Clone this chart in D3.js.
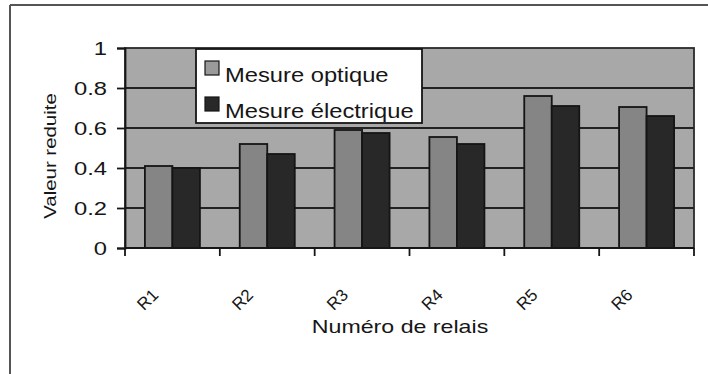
<!DOCTYPE html>
<html><head><meta charset="utf-8">
<script src="https://cdn.jsdelivr.net/npm/d3@7"></script>
<style>
html,body{margin:0;padding:0;background:#fff;}
svg{display:block;font-family:"Liberation Sans",Arial,sans-serif;}
</style></head>
<body>
<svg id="chart" width="708" height="374"></svg>
<script>
const categories = ["R1","R2","R3","R4","R5","R6"];
const seriesNames = ["Mesure optique","Mesure électrique"];
const optique = [0.41,0.52,0.59,0.555,0.76,0.705];
const electrique = [0.40,0.47,0.575,0.52,0.71,0.66];
const yTicks = [0,0.2,0.4,0.6,0.8,1];
const yTickLabels = ["0","0.2","0.4","0.6","0.8","1"];
const seriesValues = [optique, electrique];
const seriesColors = ["#858585","#282828"];
const swatchColors = ["#9a9a9a","#282828"];

const svg = d3.select("#chart");
const M = {left:125, right:694, top:48, bottom:248};
const ink = "#161616";

function stretch(sel, k){
  sel.each(function(){
    const w = this.getComputedTextLength();
    this.setAttribute("textLength", w*k);
    this.setAttribute("lengthAdjust","spacingAndGlyphs");
  });
}

// outer frame (top & left only visible)
svg.append("line").attr("x1",10).attr("x2",708).attr("y1",5).attr("y2",5)
  .attr("stroke","#555").attr("stroke-width",2);
svg.append("line").attr("x1",10).attr("x2",10).attr("y1",5).attr("y2",374)
  .attr("stroke","#555").attr("stroke-width",2);

const x = d3.scaleBand().domain(categories).range([M.left, M.right]).padding(0);
const x1 = d3.scaleBand().domain(seriesNames).range([0, x.bandwidth()]).paddingInner(0).paddingOuter(0.724);
const y = d3.scaleLinear().domain([0,1]).range([M.bottom, M.top]);

// plot background
svg.append("rect").attr("x",M.left).attr("y",M.top)
  .attr("width",M.right-M.left).attr("height",M.bottom-M.top)
  .attr("fill","#a8a8a8");

// gridlines
svg.append("g").selectAll("line").data(yTicks.filter(d=>d>0 && d<1)).join("line")
  .attr("x1",M.left).attr("x2",M.right)
  .attr("y1",d=>y(d)).attr("y2",d=>y(d))
  .attr("stroke","#222").attr("stroke-width",1.8);

// bars
const groups = svg.append("g").selectAll("g").data(categories).join("g")
  .attr("transform",c=>`translate(${x(c)},0)`);
groups.selectAll("rect").data((c,i)=>seriesNames.map((s,j)=>({s, j, v:seriesValues[j][i]})))
  .join("rect")
  .attr("x",d=>x1(d.s)).attr("width",x1.bandwidth())
  .attr("y",d=>y(d.v)).attr("height",d=>y(0)-y(d.v))
  .attr("fill",d=>seriesColors[d.j])
  .attr("stroke","#151515").attr("stroke-width",1.8);

// plot border
svg.append("rect").attr("x",M.left).attr("y",M.top)
  .attr("width",M.right-M.left).attr("height",M.bottom-M.top)
  .attr("fill","none").attr("stroke","#2a2a2a").attr("stroke-width",1.8);

// y axis
const yAxis = svg.append("g").attr("transform",`translate(${M.left},0)`)
  .call(d3.axisLeft(y).tickValues(yTicks).tickFormat((d,i)=>yTickLabels[i]).tickSize(8).tickPadding(10));
yAxis.select(".domain").attr("stroke",ink).attr("stroke-width",1.8);
yAxis.selectAll(".tick line").attr("stroke",ink).attr("stroke-width",1.8);
yAxis.selectAll(".tick text").attr("font-size",19).attr("fill",ink)
  .attr("font-family","Liberation Sans, Arial, sans-serif");
stretch(yAxis.selectAll(".tick text"), 1.25);

// x axis line & ticks at band boundaries
const bounds = categories.map(c=>x(c)).concat([x.range()[1]]);
svg.append("line").attr("x1",M.left).attr("x2",M.right).attr("y1",M.bottom).attr("y2",M.bottom)
  .attr("stroke",ink).attr("stroke-width",1.8);
svg.append("g").selectAll("line").data(bounds).join("line")
  .attr("x1",d=>d).attr("x2",d=>d).attr("y1",M.bottom).attr("y2",M.bottom+8)
  .attr("stroke",ink).attr("stroke-width",1.8);

// x tick labels rotated
svg.append("g").selectAll("text").data(categories).join("text")
  .attr("transform",c=>`translate(${x(c)+x.bandwidth()/2-13},296) rotate(-45)`)
  .attr("text-anchor","end").attr("font-size",17).attr("fill",ink)
  .text(d=>d);

// axis titles
const xt = svg.append("text").attr("x",400).attr("y",333).attr("text-anchor","middle")
  .attr("font-size",19).attr("fill",ink).text("Numéro de relais");
stretch(xt, 1.22);
const yt = svg.append("text").attr("transform","translate(56,156) rotate(-90)")
  .attr("text-anchor","middle").attr("font-size",17).attr("fill",ink).text("Valeur reduite");
stretch(yt, 1.2);

// legend
const lg = svg.append("g");
lg.append("rect").attr("x",196).attr("y",49).attr("width",226).attr("height",74)
  .attr("fill","#fff").attr("stroke",ink).attr("stroke-width",1.8);
const items = lg.selectAll("g").data(seriesNames).join("g")
  .attr("transform",(d,i)=>`translate(205,${61+i*36})`);
items.append("rect").attr("width",14).attr("height",14)
  .attr("fill",(d,i)=>swatchColors[i]).attr("stroke",ink).attr("stroke-width",1.2);
const lt = items.append("text").attr("x",20).attr("y",21).attr("font-size",21).attr("fill",ink).text(d=>d);
stretch(lt, 1.13);
</script>
</body></html>
